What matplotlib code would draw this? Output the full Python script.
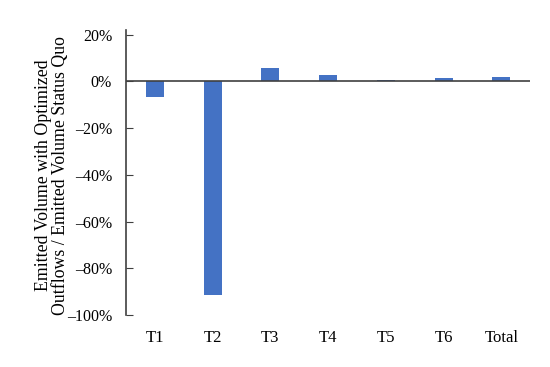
import matplotlib
matplotlib.use("Agg")
import matplotlib.pyplot as plt
from matplotlib.ticker import FuncFormatter

categories = ["T1", "T2", "T3", "T4", "T5", "T6", "Total"]
values = [-6.5, -91.5, 5.6, 2.7, 0.8, 1.3, 1.7]
yticks = [20, 0, -20, -40, -60, -80, -100]

plt.rcParams['font.family'] = ['Liberation Serif', 'DejaVu Serif']
plt.rcParams['axes.unicode_minus'] = True

fig = plt.figure(figsize=(5.5, 3.67), dpi=100)
ax = fig.add_axes([0.229, 0.142, 0.735, 0.776])
x = list(range(len(categories)))
ax.bar(x, values, width=0.31, color="#4472C4", zorder=2)
ax.axhline(0, color="#404040", lw=1.2, zorder=3)
ax.set_xlim(-0.5, 6.5)
ax.set_ylim(-100, 22)
ax.set_yticks(yticks)
ax.yaxis.set_major_formatter(FuncFormatter(lambda v, p: ("\u2013" if v < 0 else "") + f"{abs(int(round(v)))}%"))
for s in ["top", "right", "bottom"]:
    ax.spines[s].set_visible(False)
ax.spines["left"].set_color("#404040")
ax.spines["left"].set_linewidth(1.2)
ax.spines["left"].set_bounds(-100, 22)
ax.tick_params(axis="y", direction="in", length=5, color="#404040", labelsize=11.5, pad=10)
ax.set_xticks(x)
ax.set_xticklabels(categories)
ax.tick_params(axis="x", length=0, labelsize=12, pad=11)
ax.set_ylabel("Emitted Volume with Optimized\nOutflows / Emitted Volume Status Quo", fontsize=12.8, linespacing=1.0)
ax.yaxis.set_label_coords(-0.14, 0.49)
fig.savefig("out.png", dpi=100)
